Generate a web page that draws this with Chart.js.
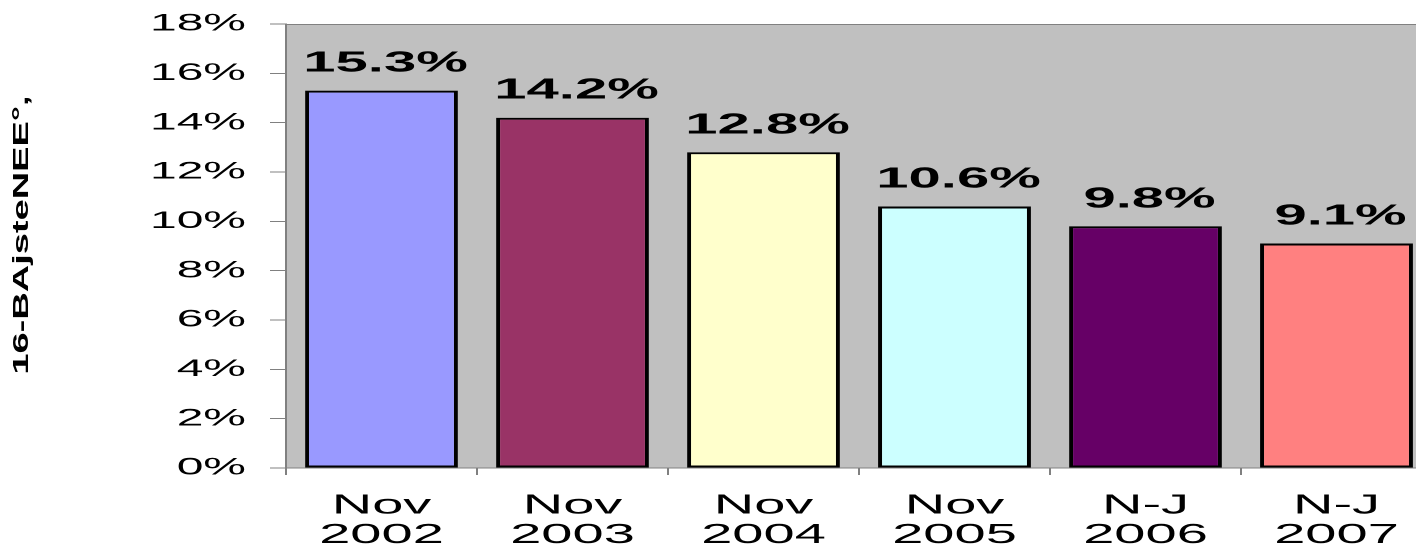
<!DOCTYPE html>
<html>
<head>
<meta charset="utf-8">
<script src="https://cdn.jsdelivr.net/npm/chart.js@4/dist/chart.umd.min.js"></script>
<style>
	html, body { margin: 0; padding: 0; background: #fff; overflow: hidden; }
	/* the original picture is stretched twice as wide, so draw at half width and stretch */
	#wrap { width: 716px; height: 548px; transform: scaleX(2); transform-origin: 0 0; }
</style>
</head>
<body>
<div id="wrap"><canvas id="neet"></canvas></div>
<script>
(() => {

	const categories = [['Nov', '2002'], ['Nov', '2003'], ['Nov', '2004'], ['Nov', '2005'], ['N-J', '2006'], ['N-J', '2007']];
	const shares = [15.3, 14.2, 12.8, 10.6, 9.8, 9.1];
	const barColours = ['#9999FF', '#993366', '#FFFFCC', '#CCFFFF', '#660066', '#FF8080'];
	const yMax = 18;
	const yStep = 2;
	const axisTitle = '16-BAjsteNEE°,';

	const fontFamily = '"Liberation Sans", Arial, sans-serif';

	// grey plot background plus its top edge
	const plotBackground = {
		id: 'plotBackground',
		beforeDraw: (chart) => {
			const { ctx, chartArea: a } = chart;
			ctx.save();
			ctx.fillStyle = '#C0C0C0';
			ctx.fillRect(a.left, a.top, a.right - a.left, a.bottom - a.top);
			ctx.strokeStyle = '#808080';
			ctx.lineWidth = 1;
			ctx.beginPath();
			ctx.moveTo(a.left, a.top + 0.5);
			ctx.lineTo(a.right, a.top + 0.5);
			ctx.stroke();
			ctx.restore();
		}
	};

	// value labels above the bars
	const valueLabels = {
		id: 'valueLabels',
		afterDatasetsDraw: (chart) => {
			const { ctx } = chart;
			const meta = chart.getDatasetMeta(0);
			ctx.save();
			ctx.fillStyle = '#000';
			ctx.font = 'bold 29px ' + fontFamily;
			ctx.textAlign = 'center';
			ctx.textBaseline = 'alphabetic';
			meta.data.forEach((bar, i) => {
				ctx.fillText(shares[i].toFixed(1) + '%', bar.x + 2, bar.y - 19);
			});
			ctx.restore();
		}
	};

	// squashed, overlapping axis title as in the original
	const yTitle = {
		id: 'yTitle',
		afterDraw: (chart) => {
			const { ctx } = chart;
			ctx.save();
			ctx.translate(11, 235);
			ctx.rotate(-Math.PI / 2);
			ctx.scale(1, 0.28);
			ctx.fillStyle = '#000';
			ctx.font = 'bold 38px ' + fontFamily;
			ctx.textAlign = 'center';
			ctx.textBaseline = 'middle';
			ctx.fillText(axisTitle, 0, 0);
			ctx.restore();
		}
	};

	new Chart('neet', {
		type: 'bar',
		data: {
			labels: categories,
			datasets: [{
				data: shares,
				backgroundColor: barColours,
				borderColor: '#000',
				borderWidth: 2,
				borderSkipped: false,
				barPercentage: 0.8,
				categoryPercentage: 1
			}]
		},
		options: {
			responsive: true,
			maintainAspectRatio: false,
			devicePixelRatio: 2,
			animation: false,
			layout: { padding: { top: 24, right: 0, left: 0, bottom: 0 } },
			plugins: {
				legend: { display: false },
				tooltip: { enabled: false }
			},
			scales: {
				x: {
					offset: true,
					grid: { offset: true, drawOnChartArea: false, tickLength: 7, color: '#808080' },
					border: { color: '#808080', width: 1 },
					ticks: {
						color: '#000',
						maxRotation: 0,
						autoSkip: false,
						padding: 16,
						font: { family: fontFamily, size: 28, lineHeight: 1.05 }
					},
					afterFit: (scale) => { scale.height = 80; scale.paddingLeft = 0; scale.paddingRight = 0; }
				},
				y: {
					min: 0,
					max: yMax,
					grid: { drawOnChartArea: false, tickLength: 8, color: '#808080' },
					border: { color: '#808080', width: 1 },
					ticks: {
						stepSize: yStep,
						color: '#000',
						padding: 12,
						font: { family: fontFamily, size: 24 },
						callback: (v) => v + '%'
					},
					afterFit: (scale) => { scale.width = 143; scale.paddingTop = 0; scale.paddingBottom = 0; }
				}
			}
		},
		plugins: [plotBackground, valueLabels, yTitle]
	});
})();
</script>
</body>
</html>
